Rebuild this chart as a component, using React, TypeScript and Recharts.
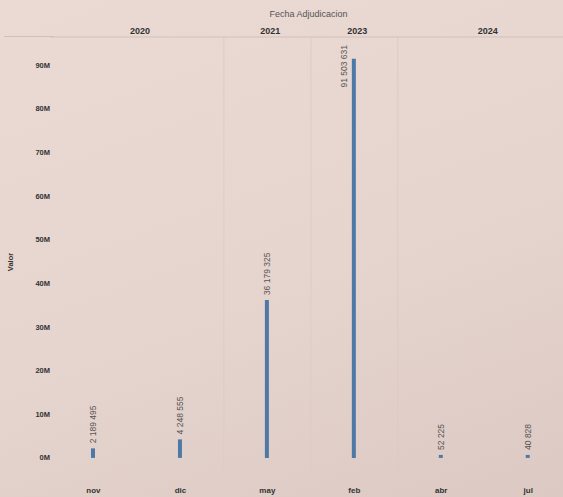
import React from "react";
import { BarChart, Bar, XAxis, YAxis, ReferenceLine, LabelList } from "recharts";

const months = ["nov", "dic", "may", "feb", "abr", "jul"];
const years = ["2020", "2020", "2021", "2023", "2024", "2024"];
const valores = [2189495, 4248555, 36179325, 91503631, 52225, 40828];
const yTicks = [0, 10e6, 20e6, 30e6, 40e6, 50e6, 60e6, 70e6, 80e6, 90e6];

const data = months.map((m, i) => ({ idx: i, month: m, year: years[i], valor: valores[i] }));

// year panes: centre of each group and the boundaries between them
const yearGroups: { year: string; center: number }[] = [];
const separators: number[] = [];
years.forEach((y, i) => {
  if (i === 0 || years[i - 1] !== y) {
    if (i > 0) separators.push(i - 0.5);
    const last = years.lastIndexOf(y);
    yearGroups.push({ year: y, center: (i + last) / 2 });
  }
});

const PLOT_TOP = 37;
const FONT = "'Liberation Sans', Arial, sans-serif";
const BLUE = "#4e79a7";
const LINE = "#d2bfb9";

const fmtNum = (v: number) => String(v).replace(/\B(?=(\d{3})+(?!\d))/g, " ");
const fmtM = (v: number) => `${Math.round(v / 1e6)}M`;

function ValueLabel(props: any) {
  const { x, y, width, value } = props;
  const cx = x + width / 2;
  const text = fmtNum(value);
  const len = text.length * 4.9;
  const top = y - 5;
  if (top - len < PLOT_TOP) {
    // not enough room above the bar: put it beside, hanging from the top
    return (
      <text
        x={cx - 10}
        y={PLOT_TOP + 8}
        transform={`rotate(-90 ${cx - 10} ${PLOT_TOP + 8})`}
        textAnchor="end"
        dominantBaseline="central"
        fontSize={8.5}
        fill="#555"
        fontFamily={FONT}
      >
        {text}
      </text>
    );
  }
  return (
    <text
      x={cx}
      y={top}
      transform={`rotate(-90 ${cx} ${top})`}
      textAnchor="start"
      dominantBaseline="central"
      fontSize={8.5}
      fill="#555"
      fontFamily={FONT}
    >
      {text}
    </text>
  );
}

function MonthTick(props: any) {
  const { x, payload } = props;
  return (
    <text x={x} y={493} textAnchor="middle" fontSize={8} fontWeight="bold" fill="#333" fontFamily={FONT}>
      {months[payload.value]}
    </text>
  );
}

function YearTick(props: any) {
  const { x, payload } = props;
  const g = yearGroups.find((gr) => gr.center === payload.value);
  return (
    <text x={x + 3} y={34} textAnchor="middle" fontSize={9} fontWeight="bold" fill="#333" fontFamily={FONT}>
      {g ? g.year : ""}
    </text>
  );
}

function ValueTick(props: any) {
  const { y, payload } = props;
  return (
    <text x={50} y={y} textAnchor="end" dominantBaseline="central" fontSize={7.5} fontWeight="bold" fill="#333" fontFamily={FONT}>
      {fmtM(payload.value)}
    </text>
  );
}

function ValorLabel() {
  return (
    <text
      x={10}
      y={262}
      transform="rotate(-90 10 262)"
      textAnchor="middle"
      dominantBaseline="central"
      fontSize={7.5}
      fontWeight="bold"
      fill="#333"
      fontFamily={FONT}
    >
      Valor
    </text>
  );
}

export default function App() {
  return (
    <div
      style={{
        position: "absolute",
        left: 0,
        top: 0,
        width: 563,
        height: 497,
        background: "linear-gradient(160deg, #ebdad4 0%, #e6d4ce 55%, #dcc9c3 100%)",
      }}
    >
      {/* header rule continues under the row axis */}
      <div style={{ position: "absolute", left: 4, top: 36, width: 50, height: 1, background: LINE }} />
      <BarChart width={563} height={497} data={data} margin={{ top: 0, right: 0, bottom: 0, left: 0 }}>
        <XAxis
          dataKey="idx"
          type="number"
          domain={[-0.5, 5.4]}
          ticks={data.map((d) => d.idx)}
          tick={<MonthTick />}
          tickLine={false}
          axisLine={false}
          height={26}
          allowDataOverflow
        />
        <XAxis
          xAxisId="year"
          orientation="top"
          dataKey="idx"
          type="number"
          domain={[-0.5, 5.4]}
          ticks={yearGroups.map((g) => g.center)}
          tick={<YearTick />}
          tickLine={false}
          axisLine={{ stroke: LINE }}
          height={37}
          allowDataOverflow
          label={{
            value: "Fecha Adjudicacion",
            position: "insideTop",
            offset: 11,
            fontSize: 9,
            fill: "#555",
            fontFamily: FONT,
            dx: 2,
          }}
        />
        <YAxis
          type="number"
          domain={[-3e6, 96.5e6]}
          ticks={yTicks}
          tick={<ValueTick />}
          tickLine={false}
          axisLine={false}
          width={50}
          allowDataOverflow
          label={<ValorLabel />}
        />
        {separators.map((s) => (
          <ReferenceLine key={s} x={s} stroke="#ddcbc5" strokeWidth={1} />
        ))}
        <Bar dataKey="valor" fill={BLUE} barSize={4} minPointSize={3} isAnimationActive={false}>
          <LabelList dataKey="valor" content={<ValueLabel />} />
        </Bar>
      </BarChart>
    </div>
  );
}
